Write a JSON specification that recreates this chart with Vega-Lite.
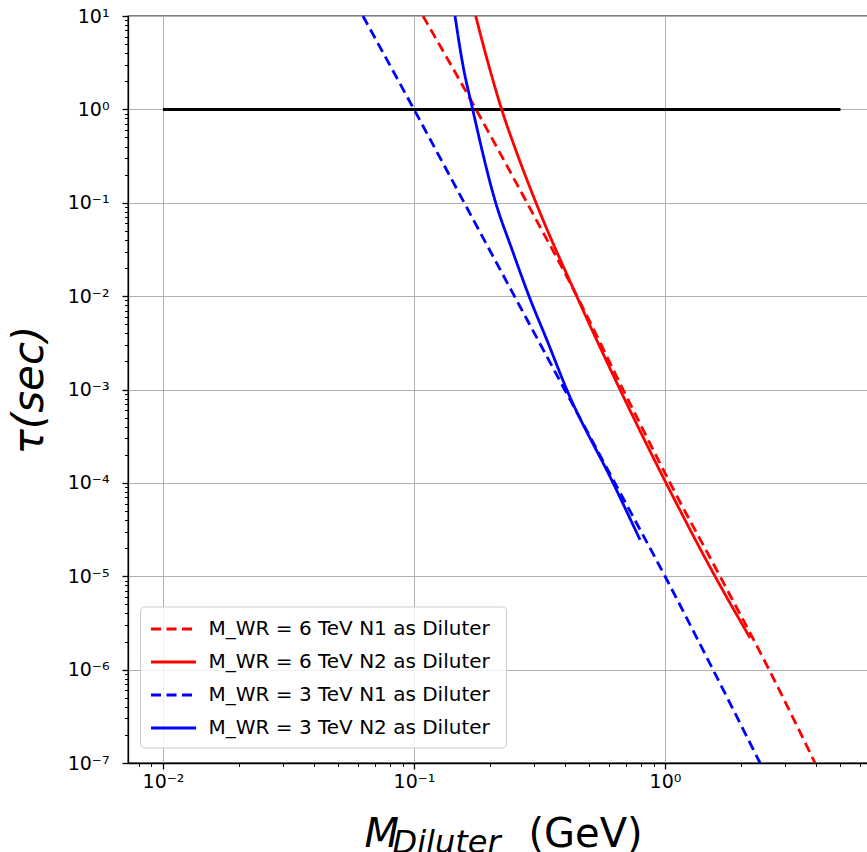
{
  "$schema": "https://vega.github.io/schema/vega-lite/v6.json",
  "width": 742,
  "height": 747,
  "autosize": {"type": "none"},
  "padding": {"left": 128, "top": 16, "right": 0, "bottom": 89},
  "background": "white",
  "config": {
    "font": "DejaVu Sans",
    "view": {"stroke": "black", "strokeWidth": 1.3}
  },
  "datasets": {
    "curves": [
      {"series": "M_WR = 6 TeV N1 as Diluter", "kind": "N1", "M": 0.1086, "tau": 10},
      {"series": "M_WR = 6 TeV N1 as Diluter", "kind": "N1", "M": 0.1766, "tau": 1},
      {"series": "M_WR = 6 TeV N1 as Diluter", "kind": "N1", "M": 0.2819, "tau": 0.1},
      {"series": "M_WR = 6 TeV N1 as Diluter", "kind": "N1", "M": 0.4459, "tau": 0.01},
      {"series": "M_WR = 6 TeV N1 as Diluter", "kind": "N1", "M": 0.6805, "tau": 0.001},
      {"series": "M_WR = 6 TeV N1 as Diluter", "kind": "N1", "M": 1.047, "tau": 0.0001},
      {"series": "M_WR = 6 TeV N1 as Diluter", "kind": "N1", "M": 1.656, "tau": 0.00001},
      {"series": "M_WR = 6 TeV N1 as Diluter", "kind": "N1", "M": 2.597, "tau": 0.000001},
      {"series": "M_WR = 6 TeV N1 as Diluter", "kind": "N1", "M": 3.96, "tau": 0.0000001},
      {"series": "M_WR = 6 TeV N2 as Diluter", "kind": "N2", "M": 0.1761, "tau": 10},
      {"series": "M_WR = 6 TeV N2 as Diluter", "kind": "N2", "M": 0.1972, "tau": 3.16},
      {"series": "M_WR = 6 TeV N2 as Diluter", "kind": "N2", "M": 0.2235, "tau": 1},
      {"series": "M_WR = 6 TeV N2 as Diluter", "kind": "N2", "M": 0.2596, "tau": 0.316},
      {"series": "M_WR = 6 TeV N2 as Diluter", "kind": "N2", "M": 0.3062, "tau": 0.1},
      {"series": "M_WR = 6 TeV N2 as Diluter", "kind": "N2", "M": 0.4447, "tau": 0.01},
      {"series": "M_WR = 6 TeV N2 as Diluter", "kind": "N2", "M": 0.6617, "tau": 0.001},
      {"series": "M_WR = 6 TeV N2 as Diluter", "kind": "N2", "M": 1.009, "tau": 0.0001},
      {"series": "M_WR = 6 TeV N2 as Diluter", "kind": "N2", "M": 1.582, "tau": 0.00001},
      {"series": "M_WR = 6 TeV N2 as Diluter", "kind": "N2", "M": 2.181, "tau": 0.00000219},
      {"series": "M_WR = 3 TeV N1 as Diluter", "kind": "N1", "M": 0.0626, "tau": 10},
      {"series": "M_WR = 3 TeV N1 as Diluter", "kind": "N1", "M": 0.1, "tau": 1},
      {"series": "M_WR = 3 TeV N1 as Diluter", "kind": "N1", "M": 0.1585, "tau": 0.1},
      {"series": "M_WR = 3 TeV N1 as Diluter", "kind": "N1", "M": 0.2512, "tau": 0.01},
      {"series": "M_WR = 3 TeV N1 as Diluter", "kind": "N1", "M": 0.3981, "tau": 0.001},
      {"series": "M_WR = 3 TeV N1 as Diluter", "kind": "N1", "M": 0.631, "tau": 0.0001},
      {"series": "M_WR = 3 TeV N1 as Diluter", "kind": "N1", "M": 1.0, "tau": 0.00001},
      {"series": "M_WR = 3 TeV N1 as Diluter", "kind": "N1", "M": 1.553, "tau": 0.000001},
      {"series": "M_WR = 3 TeV N1 as Diluter", "kind": "N1", "M": 2.391, "tau": 0.0000001},
      {"series": "M_WR =  3 TeV N2 as Diluter", "kind": "N2", "M": 0.1457, "tau": 10},
      {"series": "M_WR =  3 TeV N2 as Diluter", "kind": "N2", "M": 0.156, "tau": 3.16},
      {"series": "M_WR =  3 TeV N2 as Diluter", "kind": "N2", "M": 0.1713, "tau": 1},
      {"series": "M_WR =  3 TeV N2 as Diluter", "kind": "N2", "M": 0.2116, "tau": 0.1},
      {"series": "M_WR =  3 TeV N2 as Diluter", "kind": "N2", "M": 0.2457, "tau": 0.0316},
      {"series": "M_WR =  3 TeV N2 as Diluter", "kind": "N2", "M": 0.2872, "tau": 0.01},
      {"series": "M_WR =  3 TeV N2 as Diluter", "kind": "N2", "M": 0.342, "tau": 0.00316},
      {"series": "M_WR =  3 TeV N2 as Diluter", "kind": "N2", "M": 0.4059, "tau": 0.001},
      {"series": "M_WR =  3 TeV N2 as Diluter", "kind": "N2", "M": 0.6208, "tau": 0.0001},
      {"series": "M_WR =  3 TeV N2 as Diluter", "kind": "N2", "M": 0.7951, "tau": 0.0000246}
    ],
    "hline": [
      {"M": 0.01, "tau": 1},
      {"M": 5, "tau": 1}
    ]
  },
  "resolve": {"axis": {"x": "independent", "y": "independent"}},
  "layer": [
    {
      "data": {"name": "hline"},
      "mark": {"type": "line", "color": "black", "strokeWidth": 3},
      "encoding": {
        "x": {
          "field": "M", "type": "quantitative",
          "scale": {"type": "log", "domain": [0.007256, 6.556], "nice": false},
          "axis": {
            "orient": "bottom", "values": [], "ticks": false, "labels": false, "domain": false, "grid": false,
            "title": "(GeV)", "titleFontSize": 40, "titleFontWeight": "normal", "titleColor": "black",
            "titleX": 400, "titleY": 83, "titleAlign": "left", "titleBaseline": "alphabetic", "titleAnchor": "start"
          }
        },
        "y": {
          "field": "tau", "type": "quantitative",
          "scale": {"type": "log", "domain": [0.0000001, 10], "nice": false},
          "axis": null
        }
      }
    },
    {
      "data": {"name": "curves"},
      "transform": [{"filter": "datum.kind == 'N1'"}],
      "mark": {"type": "line", "strokeWidth": 2.8, "interpolate": "monotone"},
      "encoding": {
        "x": {
          "field": "M", "type": "quantitative",
          "scale": {"type": "log", "domain": [0.007256, 6.556], "nice": false},
          "axis": {
            "orient": "bottom", "values": [0.01, 0.1, 1],
            "labelExpr": "'10' + (round(log(datum.value)/LN10) < 0 ? '⁻' : '') + ['⁰','¹','²','³','⁴','⁵','⁶','⁷','⁸','⁹'][abs(round(log(datum.value)/LN10))]",
            "labelFontSize": 19, "labelColor": "black", "labelPadding": 3,
            "tickSize": 6, "tickWidth": 1.3, "tickColor": "black",
            "domainColor": "black", "domainWidth": 1.3,
            "grid": true, "gridColor": "#b0b0b0", "gridWidth": 1,
            "title": "M", "titleFontSize": 40, "titleFontStyle": "italic", "titleFontWeight": "normal", "titleColor": "black",
            "titleX": 236, "titleY": 83, "titleAlign": "left", "titleBaseline": "alphabetic", "titleAnchor": "start"
          }
        },
        "y": {
          "field": "tau", "type": "quantitative",
          "scale": {"type": "log", "domain": [0.0000001, 10], "nice": false},
          "axis": {
            "orient": "left",
            "values": [0.0000001, 0.000001, 0.00001, 0.0001, 0.001, 0.01, 0.1, 1, 10],
            "labelExpr": "'10' + (round(log(datum.value)/LN10) < 0 ? '⁻' : '') + ['⁰','¹','²','³','⁴','⁵','⁶','⁷','⁸','⁹'][abs(round(log(datum.value)/LN10))]",
            "labelFontSize": 19, "labelColor": "black", "labelPadding": 13,
            "tickSize": 6, "tickWidth": 1.3, "tickColor": "black",
            "domainColor": "black", "domainWidth": 1.3,
            "grid": true, "gridColor": "#b0b0b0", "gridWidth": 1,
            "title": "τ(sec)", "titleFontSize": 42, "titleFontStyle": "italic", "titleFontWeight": "normal", "titleColor": "black",
            "titleX": -99, "titleY": 373.5, "titleAngle": 270, "titleAlign": "center", "titleBaseline": "middle"
          }
        },
        "color": {
          "field": "series", "type": "nominal",
          "scale": {
            "domain": ["M_WR = 6 TeV N1 as Diluter", "M_WR = 6 TeV N2 as Diluter", "M_WR = 3 TeV N1 as Diluter", "M_WR =  3 TeV N2 as Diluter"],
            "range": ["#ff0000", "#ff0000", "#0000ff", "#0000ff"]
          },
          "legend": {
            "title": null, "orient": "none", "legendX": 12, "legendY": 590.5,
            "symbolType": "M-2,0L2,0", "symbolSize": 506, "symbolStrokeWidth": 2.8, "symbolOffset": 11,
            "labelFontSize": 20, "labelColor": "black", "labelOffset": 22, "labelLimit": 400,
            "rowPadding": 10, "padding": 9.5,
            "fillColor": "rgba(255,255,255,0.8)", "strokeColor": "#cccccc", "cornerRadius": 4
          }
        },
        "strokeDash": {
          "field": "series", "type": "nominal",
          "scale": {
            "domain": ["M_WR = 6 TeV N1 as Diluter", "M_WR = 6 TeV N2 as Diluter", "M_WR = 3 TeV N1 as Diluter", "M_WR =  3 TeV N2 as Diluter"],
            "range": [[10, 5.5], [1, 0], [10, 5.5], [1, 0]]
          }
        }
      }
    },
    {
      "data": {"name": "curves"},
      "transform": [{"filter": "datum.kind == 'N2'"}],
      "mark": {"type": "line", "strokeWidth": 2.8, "interpolate": "monotone"},
      "encoding": {
        "x": {
          "field": "M", "type": "quantitative",
          "scale": {"type": "log", "domain": [0.007256, 6.556], "nice": false},
          "axis": {
            "orient": "bottom",
            "values": [0.008, 0.009, 0.02, 0.03, 0.04, 0.05, 0.06, 0.07, 0.08, 0.09, 0.2, 0.3, 0.4, 0.5, 0.6, 0.7, 0.8, 0.9, 2, 3, 4, 5, 6],
            "labels": false, "domain": false, "grid": false,
            "tickSize": 3.5, "tickWidth": 1, "tickColor": "black",
            "title": "Diluter", "titleFontSize": 32, "titleFontStyle": "italic", "titleFontWeight": "normal", "titleColor": "black",
            "titleX": 264, "titleY": 89, "titleAlign": "left", "titleBaseline": "alphabetic", "titleAnchor": "start"
          }
        },
        "y": {
          "field": "tau", "type": "quantitative",
          "scale": {"type": "log", "domain": [0.0000001, 10], "nice": false},
          "axis": {
            "orient": "left",
            "values": [0.0000002, 0.0000003, 0.0000004, 0.0000005, 0.0000006, 0.0000007, 0.0000008, 0.0000009,
                       0.000002, 0.000003, 0.000004, 0.000005, 0.000006, 0.000007, 0.000008, 0.000009,
                       0.00002, 0.00003, 0.00004, 0.00005, 0.00006, 0.00007, 0.00008, 0.00009,
                       0.0002, 0.0003, 0.0004, 0.0005, 0.0006, 0.0007, 0.0008, 0.0009,
                       0.002, 0.003, 0.004, 0.005, 0.006, 0.007, 0.008, 0.009,
                       0.02, 0.03, 0.04, 0.05, 0.06, 0.07, 0.08, 0.09,
                       0.2, 0.3, 0.4, 0.5, 0.6, 0.7, 0.8, 0.9,
                       2, 3, 4, 5, 6, 7, 8, 9],
            "labels": false, "domain": false, "grid": false,
            "tickSize": 3.5, "tickWidth": 1, "tickColor": "black",
            "title": null
          }
        },
        "color": {
          "field": "series", "type": "nominal",
          "scale": {
            "domain": ["M_WR = 6 TeV N1 as Diluter", "M_WR = 6 TeV N2 as Diluter", "M_WR = 3 TeV N1 as Diluter", "M_WR =  3 TeV N2 as Diluter"],
            "range": ["#ff0000", "#ff0000", "#0000ff", "#0000ff"]
          },
          "legend": {
            "title": null, "orient": "none", "legendX": 12, "legendY": 590.5,
            "symbolType": "M-2,0L2,0", "symbolSize": 506, "symbolStrokeWidth": 2.8, "symbolOffset": 11,
            "labelFontSize": 20, "labelColor": "black", "labelOffset": 22, "labelLimit": 400,
            "rowPadding": 10, "padding": 9.5,
            "fillColor": "rgba(255,255,255,0.8)", "strokeColor": "#cccccc", "cornerRadius": 4
          }
        },
        "strokeDash": {
          "field": "series", "type": "nominal",
          "scale": {
            "domain": ["M_WR = 6 TeV N1 as Diluter", "M_WR = 6 TeV N2 as Diluter", "M_WR = 3 TeV N1 as Diluter", "M_WR =  3 TeV N2 as Diluter"],
            "range": [[10, 5.5], [1, 0], [10, 5.5], [1, 0]]
          }
        }
      }
    }
  ]
}
